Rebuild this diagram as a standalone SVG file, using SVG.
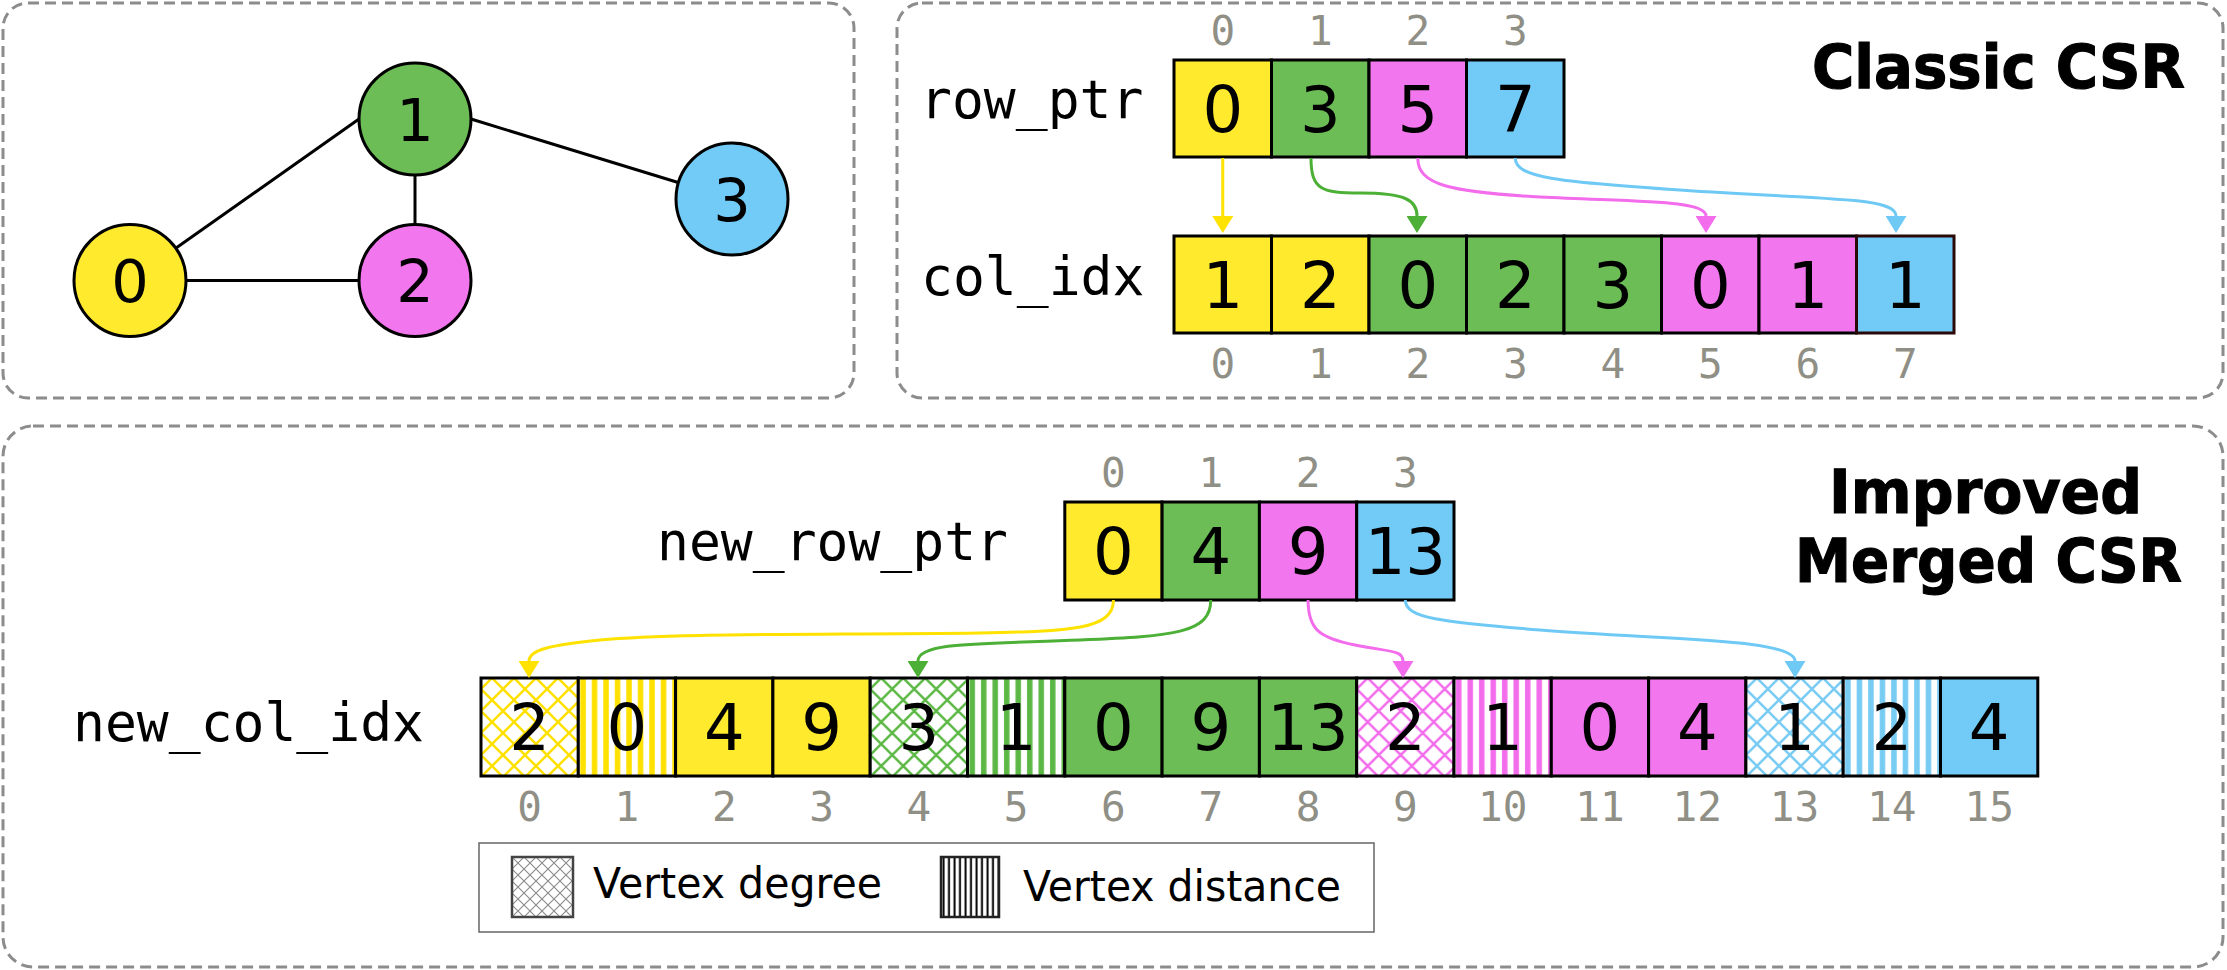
<svg xmlns="http://www.w3.org/2000/svg" width="2227" height="970" viewBox="0 0 2227 970">
<style>
.panel{fill:none;stroke:#8c8c8c;stroke-width:3;stroke-dasharray:11 6}
.cell{stroke:#000;stroke-width:3}
.v{font-family:"DejaVu Sans",Verdana,sans-serif;font-size:64px;text-anchor:middle;fill:#000}
.nv{font-family:"DejaVu Sans",Verdana,sans-serif;font-size:59px;text-anchor:middle;fill:#000}
.idx{font-family:"DejaVu Sans Mono",monospace;font-size:41px;text-anchor:middle;fill:#8f8f86}
.lbl{font-family:"DejaVu Sans Mono",monospace;font-size:53px;fill:#000}
.title{font-family:"DejaVu Sans",Verdana,sans-serif;font-weight:bold;font-size:61px;text-anchor:middle;fill:#000;stroke:#000;stroke-width:1.2}
.leg{font-family:"DejaVu Sans",Verdana,sans-serif;font-size:43px;fill:#000}
.node{stroke:#000;stroke-width:3}
.edge{stroke:#000;stroke-width:3;fill:none}
.y{fill:#ffea2e}.g{fill:#6cbd56}.m{fill:#f277ee}.b{fill:#72cbf6}
.arr{fill:none;stroke-width:3}
.ay{stroke:#ffe200}.ag{stroke:#4caf36}.am{stroke:#f36cec}.ab{stroke:#6ec9f5}
</style>
<defs>
<marker id="mkY" viewBox="0 0 17 21" refX="0" refY="10.5" markerWidth="17" markerHeight="21" markerUnits="userSpaceOnUse" orient="auto"><path d="M0 0L17 10.5L0 21Z" fill="#ffe200"/></marker>
<marker id="mkG" viewBox="0 0 17 21" refX="0" refY="10.5" markerWidth="17" markerHeight="21" markerUnits="userSpaceOnUse" orient="auto"><path d="M0 0L17 10.5L0 21Z" fill="#4caf36"/></marker>
<marker id="mkM" viewBox="0 0 17 21" refX="0" refY="10.5" markerWidth="17" markerHeight="21" markerUnits="userSpaceOnUse" orient="auto"><path d="M0 0L17 10.5L0 21Z" fill="#f36cec"/></marker>
<marker id="mkB" viewBox="0 0 17 21" refX="0" refY="10.5" markerWidth="17" markerHeight="21" markerUnits="userSpaceOnUse" orient="auto"><path d="M0 0L17 10.5L0 21Z" fill="#6ec9f5"/></marker>
<pattern id="hY" patternUnits="userSpaceOnUse" x="492" y="678" width="22" height="22"><rect width="22" height="22" fill="#fff"/><path d="M-2 -2L24 24M24 -2L-2 24" stroke="#ffe100" stroke-width="2.5"/></pattern>
<pattern id="hG" patternUnits="userSpaceOnUse" x="881.2" y="678" width="22" height="22"><rect width="22" height="22" fill="#fff"/><path d="M-2 -2L24 24M24 -2L-2 24" stroke="#5cb845" stroke-width="2.5"/></pattern>
<pattern id="hM" patternUnits="userSpaceOnUse" x="1367.7" y="678" width="22" height="22"><rect width="22" height="22" fill="#fff"/><path d="M-2 -2L24 24M24 -2L-2 24" stroke="#f36cec" stroke-width="2.5"/></pattern>
<pattern id="hB" patternUnits="userSpaceOnUse" x="1756.9" y="678" width="22" height="22"><rect width="22" height="22" fill="#fff"/><path d="M-2 -2L24 24M24 -2L-2 24" stroke="#78cbf3" stroke-width="2.5"/></pattern>
<pattern id="sY" patternUnits="userSpaceOnUse" x="578.3" y="678" width="11.5" height="10"><rect width="11.5" height="10" fill="#fff"/><rect x="2" width="5.5" height="10" fill="#ffe100"/></pattern>
<pattern id="sG" patternUnits="userSpaceOnUse" x="967.5" y="678" width="11.5" height="10"><rect width="11.5" height="10" fill="#fff"/><rect x="2" width="5.5" height="10" fill="#5cb845"/></pattern>
<pattern id="sM" patternUnits="userSpaceOnUse" x="1454" y="678" width="11.5" height="10"><rect width="11.5" height="10" fill="#fff"/><rect x="2" width="5.5" height="10" fill="#f36cec"/></pattern>
<pattern id="sB" patternUnits="userSpaceOnUse" x="1843.2" y="678" width="11.5" height="10"><rect width="11.5" height="10" fill="#fff"/><rect x="2" width="5.5" height="10" fill="#78cbf3"/></pattern>
<pattern id="hL" patternUnits="userSpaceOnUse" x="512" y="857" width="12" height="12"><rect width="12" height="12" fill="#fff"/><path d="M-1 -1L13 13M13 -1L-1 13" stroke="#8a8a8a" stroke-width="1.1"/></pattern>
<pattern id="sL" patternUnits="userSpaceOnUse" x="941" y="857" width="5.5" height="10"><rect width="5.5" height="10" fill="#fff"/><rect x="1.5" width="2" height="10" fill="#000"/></pattern>
</defs>

<g id="panels">
<rect class="panel" x="3" y="3" width="851" height="395" rx="25"/>
<rect class="panel" x="897" y="3" width="1326" height="395" rx="25"/>
<rect class="panel" x="3" y="426" width="2220" height="541" rx="30"/>
</g>

<g id="graph-edges">
<path class="edge" d="M130 280.5L359 119"/>
<path class="edge" d="M130 280.5L415 280.5"/>
<path class="edge" d="M415 119L415 280.5"/>
<path class="edge" d="M471 119L732 199"/>
</g>
<g id="v0"><circle class="node y" cx="130" cy="280.5" r="56"/><text class="nv" x="130" y="302">0</text></g>
<g id="v1"><circle class="node g" cx="415" cy="119" r="56"/><text class="nv" x="415" y="140.5">1</text></g>
<g id="v2"><circle class="node m" cx="415" cy="280.5" r="56"/><text class="nv" x="415" y="302">2</text></g>
<g id="v3"><circle class="node b" cx="732" cy="199" r="56"/><text class="nv" x="732" y="220.5">3</text></g>

<g id="classic-title"><text class="title" x="1998.5" y="88" textLength="373" lengthAdjust="spacingAndGlyphs">Classic CSR</text></g>

<g id="row_ptr">
<text class="lbl" x="920" y="118">row_ptr</text>
<g class="idx"><text x="1222.75" y="45">0</text><text x="1320.25" y="45">1</text><text x="1417.75" y="45">2</text><text x="1515.25" y="45">3</text></g>
<rect class="cell y" x="1174" y="60" width="97.5" height="97"/>
<rect class="cell g" x="1271.5" y="60" width="97.5" height="97"/>
<rect class="cell m" x="1369" y="60" width="97.5" height="97"/>
<rect class="cell b" x="1466.5" y="60" width="97.5" height="97"/>
<g class="v"><text x="1222.75" y="132">0</text><text x="1320.25" y="132">3</text><text x="1417.75" y="132">5</text><text x="1515.25" y="132">7</text></g>
</g>

<g id="col_idx">
<text class="lbl" x="921" y="295">col_idx</text>
<rect class="cell y" x="1174" y="236" width="97.5" height="97"/>
<rect class="cell y" x="1271.5" y="236" width="97.5" height="97"/>
<rect class="cell g" x="1369" y="236" width="97.5" height="97"/>
<rect class="cell g" x="1466.5" y="236" width="97.5" height="97"/>
<rect class="cell g" x="1564" y="236" width="97.5" height="97"/>
<rect class="cell m" x="1661.5" y="236" width="97.5" height="97"/>
<rect class="cell m" x="1759" y="236" width="97.5" height="97"/>
<rect class="cell b" x="1856.5" y="236" width="97.5" height="97" style="stroke:#2a0808"/>
<g class="v"><text x="1222.75" y="308">1</text><text x="1320.25" y="308">2</text><text x="1417.75" y="308">0</text><text x="1515.25" y="308">2</text><text x="1612.75" y="308">3</text><text x="1710.25" y="308">0</text><text x="1807.75" y="308">1</text><text x="1905.25" y="308">1</text></g>
<g class="idx"><text x="1222.75" y="378">0</text><text x="1320.25" y="378">1</text><text x="1417.75" y="378">2</text><text x="1515.25" y="378">3</text><text x="1612.75" y="378">4</text><text x="1710.25" y="378">5</text><text x="1807.75" y="378">6</text><text x="1905.25" y="378">7</text></g>
</g>

<g id="improved-title"><text class="title" x="1985.5" y="513" textLength="313" lengthAdjust="spacingAndGlyphs">Improved</text><text class="title" x="1988.5" y="582" textLength="387" lengthAdjust="spacingAndGlyphs">Merged CSR</text></g>

<g id="new_row_ptr">
<text class="lbl" x="657" y="560">new_row_ptr</text>
<g class="idx"><text x="1113.45" y="487">0</text><text x="1210.75" y="487">1</text><text x="1308.05" y="487">2</text><text x="1405.35" y="487">3</text></g>
<rect class="cell y" x="1064.8" y="502" width="97.3" height="98"/>
<rect class="cell g" x="1162.1" y="502" width="97.3" height="98"/>
<rect class="cell m" x="1259.4" y="502" width="97.3" height="98"/>
<rect class="cell b" x="1356.7" y="502" width="97.3" height="98"/>
<g class="v"><text x="1113.45" y="574">0</text><text x="1210.75" y="574">4</text><text x="1308.05" y="574">9</text><text x="1405.35" y="574">13</text></g>
</g>

<g id="new_col_idx">
<text class="lbl" x="73" y="741">new_col_idx</text>
<rect class="cell" fill="url(#hY)" x="481" y="678" width="97.3" height="98"/>
<rect class="cell" fill="url(#sY)" x="578.3" y="678" width="97.3" height="98"/>
<rect class="cell y" x="675.6" y="678" width="97.3" height="98"/>
<rect class="cell y" x="772.9" y="678" width="97.3" height="98"/>
<rect class="cell" fill="url(#hG)" x="870.2" y="678" width="97.3" height="98"/>
<rect class="cell" fill="url(#sG)" x="967.5" y="678" width="97.3" height="98"/>
<rect class="cell g" x="1064.8" y="678" width="97.3" height="98"/>
<rect class="cell g" x="1162.1" y="678" width="97.3" height="98"/>
<rect class="cell g" x="1259.4" y="678" width="97.3" height="98"/>
<rect class="cell" fill="url(#hM)" x="1356.7" y="678" width="97.3" height="98"/>
<rect class="cell" fill="url(#sM)" x="1454" y="678" width="97.3" height="98"/>
<rect class="cell m" x="1551.3" y="678" width="97.3" height="98"/>
<rect class="cell m" x="1648.6" y="678" width="97.3" height="98"/>
<rect class="cell" fill="url(#hB)" x="1745.9" y="678" width="97.3" height="98"/>
<rect class="cell" fill="url(#sB)" x="1843.2" y="678" width="97.3" height="98"/>
<rect class="cell b" x="1940.5" y="678" width="97.3" height="98"/>
<g class="v"><text x="529.65" y="750">2</text><text x="626.95" y="750">0</text><text x="724.25" y="750">4</text><text x="821.55" y="750">9</text><text x="918.85" y="750">3</text><text x="1016.15" y="750">1</text><text x="1113.45" y="750">0</text><text x="1210.75" y="750">9</text><text x="1308.05" y="750">13</text><text x="1405.35" y="750">2</text><text x="1502.65" y="750">1</text><text x="1599.95" y="750">0</text><text x="1697.25" y="750">4</text><text x="1794.55" y="750">1</text><text x="1891.85" y="750">2</text><text x="1989.15" y="750">4</text></g>
<g class="idx"><text x="529.65" y="821">0</text><text x="626.95" y="821">1</text><text x="724.25" y="821">2</text><text x="821.55" y="821">3</text><text x="918.85" y="821">4</text><text x="1016.15" y="821">5</text><text x="1113.45" y="821">6</text><text x="1210.75" y="821">7</text><text x="1308.05" y="821">8</text><text x="1405.35" y="821">9</text><text x="1502.65" y="821">10</text><text x="1599.95" y="821">11</text><text x="1697.25" y="821">12</text><text x="1794.55" y="821">13</text><text x="1891.85" y="821">14</text><text x="1989.15" y="821">15</text></g>
</g>

<g id="legend">
<rect x="479" y="843" width="895" height="89" fill="#fff" stroke="#666" stroke-width="1.5"/>
<rect x="512" y="857" width="61" height="60" fill="url(#hL)" stroke="#444" stroke-width="2.5"/>
<text class="leg" x="593" y="898" textLength="289" lengthAdjust="spacingAndGlyphs">Vertex degree</text>
<rect x="941" y="857" width="58" height="60" fill="url(#sL)" stroke="#222" stroke-width="2.5"/>
<text class="leg" x="1023" y="901" textLength="318" lengthAdjust="spacingAndGlyphs">Vertex distance</text>
</g>

<g id="connectors">
<path class="arr ay" d="M1222.75 158L1222.75 216" marker-end="url(#mkY)"/>
<path class="arr ag" d="M1311 158C1311 190 1322 193 1360 193C1405 193 1417 200 1417 216" marker-end="url(#mkG)"/>
<path class="arr am" d="M1417.75 158C1417.75 185 1450 192 1540 197C1640 202 1706 200 1706 216" marker-end="url(#mkM)"/>
<path class="arr ab" d="M1515.25 158C1515.25 178 1560 182 1680 190C1820 200 1896 196 1896 216" marker-end="url(#mkB)"/>
<path class="arr ay" d="M1113.45 600C1113.45 630 1070 631 980 633C820 635 670 633 600 640C550 645 529 650 529 661" marker-end="url(#mkY)"/>
<path class="arr ag" d="M1210.75 600C1210.75 633 1175 636 1080 640C980 644 918 642 918 661" marker-end="url(#mkG)"/>
<path class="arr am" d="M1308.05 600C1308.05 630 1320 638 1355 645C1390 652 1403 650 1403 661" marker-end="url(#mkM)"/>
<path class="arr ab" d="M1405.35 600C1405.35 618 1440 622 1540 630C1660 640 1795 638 1795 661" marker-end="url(#mkB)"/>
</g>
</svg>
